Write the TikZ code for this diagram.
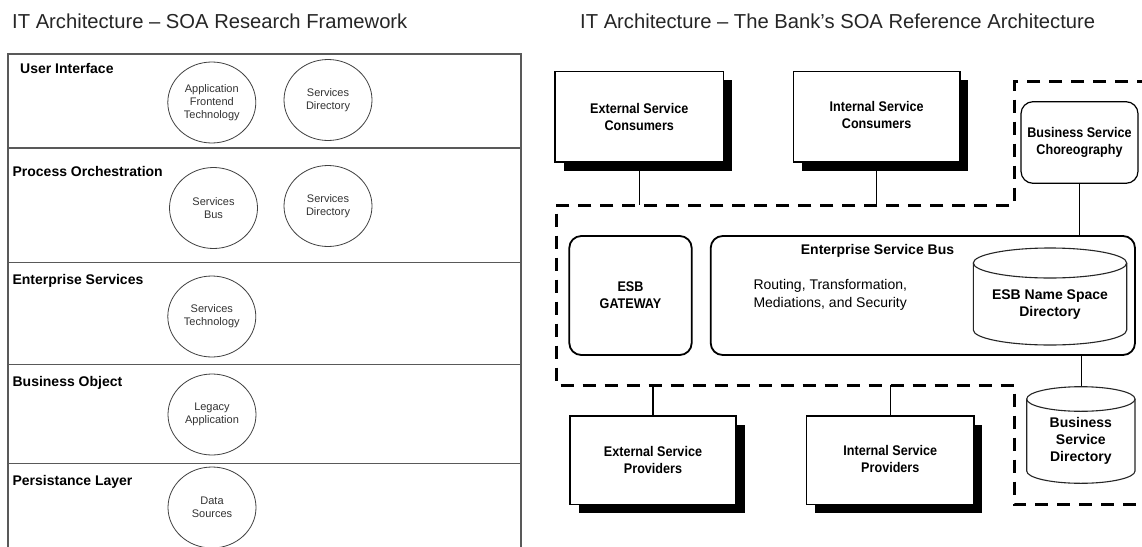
\documentclass[tikz,border=0pt]{standalone}
\usepackage{fontspec}
\setmainfont{Liberation Sans}
\newfontfamily\nbfont{Liberation Sans}[FakeStretch=0.9]
\usetikzlibrary{shapes.geometric,shadows}
\newcommand{\twolines}[2]{\raisebox{5pt}{\begin{tabular}{@{}c@{}}#1\\#2\end{tabular}}}
\begin{document}
\begin{tikzpicture}[x=1pt,y=-1pt,
  title/.style={font=\fontsize{20.2}{22}\selectfont, text=black!85, anchor=west, inner sep=0},
  layerlabel/.style={font=\bfseries\fontsize{14}{16}\selectfont, anchor=west, inner sep=0},
  layerbox/.style={rectangle, draw=black!65, line width=1.1pt, minimum width=513pt, inner sep=0},
  comp/.style={ellipse, draw=black!75, line width=0.8pt, minimum width=88pt, minimum height=81pt, inner sep=0, align=center, font=\fontsize{11}{12.7}\selectfont, text=black!80},
  actor/.style={rectangle, draw=black, line width=1.2pt, fill=white, drop shadow={shadow xshift=8.5pt, shadow yshift=-8.5pt, fill=black, opacity=1}, align=center, font=\nbfont\bfseries\fontsize{14}{17}\selectfont, inner sep=0},
  rbox/.style={rectangle, rounded corners=12pt, draw=black, line width=1.8pt, fill=white, align=center, font=\nbfont\bfseries\fontsize{14}{17}\selectfont, inner sep=0},
  rtext/.style={align=center, font=\nbfont\bfseries\fontsize{14}{17}\selectfont, inner sep=0},
  cyl/.style={draw=black!85, line width=1.1pt, fill=white},
  link/.style={draw=black, line width=1.2pt},
  zone/.style={draw=black, line width=3pt, dash pattern=on 13pt off 9pt}
]
\clip (0,0) rectangle (1142,546);
\fill[white] (0,0) rectangle (1142,546);

% ---------------- left panel ----------------
\node[title] (t1) at (12,21.7) {IT Architecture – SOA Research Framework};

\node[layerbox, minimum height=94pt] (r1) at (264.5,101) {};
\node[layerbox, minimum height=114.5pt] (r2) at (264.5,205.25) {};
\node[layerbox, minimum height=102pt] (r3) at (264.5,313.5) {};
\node[layerbox, minimum height=99pt] (r4) at (264.5,414) {};
\node[layerbox, minimum height=160pt] (r5) at (264.5,543.5) {};

\node[layerlabel] (l1) at (20,68.3) {User Interface};
\node[layerlabel] (l2) at (12.4,171) {Process Orchestration};
\node[layerlabel] (l3) at (12.4,280.7) {Enterprise Services};
\node[layerlabel] (l4) at (12.4,383.3) {Business Object};
\node[layerlabel] (l5) at (12.4,481.7) {Persistance Layer};

\node[comp] (c1) at (211.8,102.5) {Application\\Frontend\\Technology};
\node[comp] (c2) at (328,100) {Services\\Directory};
\node[comp] (c3) at (213.5,208) {Services\\Bus};
\node[comp] (c4) at (328,206) {Services\\Directory};
\node[comp] (c5) at (211.8,316.5) {Services\\Technology};
\node[comp] (c6) at (212,414.5) {Legacy\\Application};
\node[comp] (c7) at (212,507.5) {Data\\Sources};

% ---------------- right panel ----------------
\node[title] (t2) at (580,21.7) {IT Architecture – The Bank’s SOA Reference Architecture};

% dashed zone
\draw[zone] (1150,81.7) -- (1014,81.7) -- (1014,205) -- (556,205) -- (556,385) -- (1014,385) -- (1014,504.3) -- (1150,504.3);
\coordinate (z1) at (639.25,205);
\coordinate (z2) at (876.6,205);
\coordinate (z3) at (653,385);
\coordinate (z4) at (890.3,385);

% consumers
\node[actor, minimum width=168.5pt, minimum height=90.3pt] (ec) at (639.25,116.85) {External Service\\Consumers};
\node[actor, minimum width=166.7pt, minimum height=90.3pt] (ic) at (876.6,116.85) {\twolines{Internal Service}{Consumers}};
\draw[link] (ec.south) -- (z1);
\draw[link] (ic.south) -- (z2);

% choreography
\node[rbox, line width=1.2pt, minimum width=117pt, minimum height=81.6pt] (ch) at (1079.5,142.5) {Business Service\\Choreography};

% ESB gateway and bus
\node[rbox, minimum width=122.4pt, minimum height=119pt] (gw) at (630.5,295.5) {ESB\\GATEWAY};
\node[rbox, minimum width=424.3pt, minimum height=119pt] (esb) at (922.85,295.5) {};
\draw[link] (ch.south) -- (ch.south |- esb.north);
\node[rtext, font=\bfseries\fontsize{14}{17}\selectfont] (esbt) at (877.5,250.7) {Enterprise Service Bus};
\node[align=left, anchor=west, inner sep=0, font=\fontsize{14}{18}\selectfont] (rt) at (753.3,295) {Routing, Transformation,\\Mediations, and Security};

% ESB name space directory cylinder
\draw[cyl] (973.3,263) -- (973.3,330) arc[start angle=180, end angle=360, x radius=76.7pt, y radius=15pt] -- (1126.7,263);
\draw[cyl] (1050,263) ellipse [x radius=76.7pt, y radius=15pt];
\node[rtext, font=\bfseries\fontsize{14}{17}\selectfont] (nsd) at (1050,305) {ESB Name Space\\Directory};

% business service directory cylinder
\coordinate (bsdtop) at (1081.7,386.7);
\draw[link] (esb.south -| bsdtop) -- (bsdtop);
\draw[cyl] (1026.7,399) -- (1026.7,471) arc[start angle=180, end angle=360, x radius=54.15pt, y radius=12.3pt] -- (1135,399);
\draw[cyl] (1080.85,399) ellipse [x radius=54.15pt, y radius=12.3pt];
\node[rtext, font=\bfseries\fontsize{14}{17}\selectfont] (bsd) at (1080.85,441) {Business\\Service\\Directory};

% providers
\node[actor, minimum width=166pt, minimum height=88.3pt] (ep) at (653,460.15) {External Service\\Providers};
\node[actor, minimum width=167.3pt, minimum height=88.3pt] (ip) at (890.3,460.15) {\twolines{Internal Service}{Providers}};
\draw[link, line width=1.6pt] (z3) -- (ep.north);
\draw[link, line width=1.6pt] (z4) -- (ip.north);
\end{tikzpicture}
\end{document}
